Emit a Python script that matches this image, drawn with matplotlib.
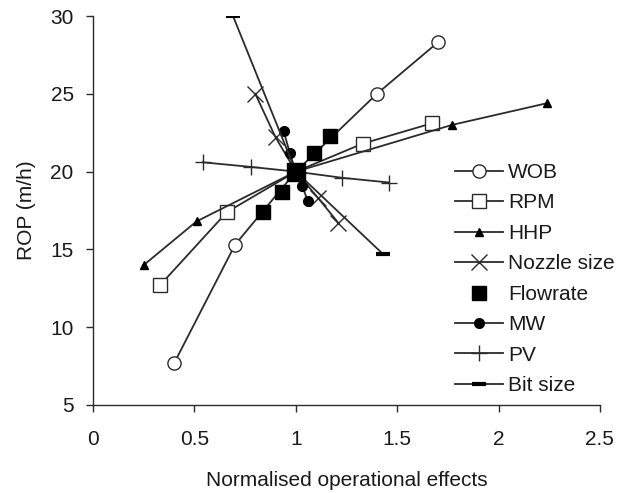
import matplotlib
matplotlib.use("Agg")
import matplotlib.pyplot as plt

plt.rcParams['font.family'] = ['Liberation Sans', 'DejaVu Sans']

# values
wob_x = [0.40, 0.70, 1.00, 1.40, 1.70]
wob_y = [7.7, 15.3, 20.0, 25.0, 28.3]
rpm_x = [0.33, 0.66, 1.00, 1.33, 1.67]
rpm_y = [12.7, 17.4, 20.0, 21.8, 23.1]
hhp_x = [0.25, 0.51, 1.00, 1.77, 2.24]
hhp_y = [14.0, 16.8, 20.0, 23.0, 24.4]
nozzle_x = [0.80, 0.90, 1.00, 1.11, 1.21]
nozzle_y = [25.0, 22.2, 20.0, 18.3, 16.7]
flow_x = [0.84, 0.93, 1.00, 1.09, 1.17]
flow_y = [17.4, 18.7, 20.0, 21.2, 22.3]
mw_x = [0.94, 0.97, 1.00, 1.03, 1.06]
mw_y = [22.6, 21.2, 20.0, 19.1, 18.1]
pv_x = [0.54, 0.78, 1.00, 1.23, 1.46]
pv_y = [20.6, 20.3, 20.0, 19.6, 19.3]
bit_x = [0.69, 1.00, 1.43]
bit_y = [30.0, 20.0, 14.7]

xticks = [0, 0.5, 1, 1.5, 2, 2.5]
xticklabels = ['0', '0.5', '1', '1.5', '2', '2.5']
yticks = [5, 10, 15, 20, 25, 30]

lc = '#2b2b2b'
txt = '#1a1a1a'

fig = plt.figure(figsize=(6.21, 4.93), dpi=100)
ax = fig.add_axes([0.150, 0.1785, 0.816, 0.789])

lw = 1.3
ax.plot(wob_x, wob_y, color=lc, lw=lw, marker='o', ms=9.5, mfc='white', mec=lc, mew=1.0, label='WOB')
ax.plot(rpm_x, rpm_y, color=lc, lw=lw, marker='s', ms=10, mfc='white', mec=lc, mew=1.0, label='RPM')
ax.plot(hhp_x, hhp_y, color=lc, lw=lw, marker='^', ms=6, mfc='black', mec='black', label='HHP')
ax.plot(nozzle_x, nozzle_y, color=lc, lw=lw, marker='x', ms=11, mec=lc, mew=1.0, label='Nozzle size')
ax.plot(flow_x, flow_y, ls='none', marker='s', ms=10, mfc='black', mec='black', label='Flowrate', zorder=4)
ax.plot(mw_x, mw_y, color=lc, lw=lw, marker='o', ms=7, mfc='black', mec='black', label='MW')
ax.plot(pv_x, pv_y, color=lc, lw=lw, marker='+', ms=12, mec=lc, mew=1.0, label='PV')
ax.plot(bit_x, bit_y, color=lc, lw=lw, marker='_', ms=10, mec='black', mew=3, label='Bit size', markevery=[0, 2])

# big centre marker where all series meet
ax.plot([1.0], [20.0], ls='none', marker='s', ms=13, mfc='black', mec='black', zorder=5)

ax.set_xlim(0, 2.5)
ax.set_ylim(5, 30)
ax.set_xticks(xticks)
ax.set_xticklabels(xticklabels)
ax.set_yticks(yticks)

for s in ['top', 'right']:
    ax.spines[s].set_visible(False)
for s in ['left', 'bottom']:
    ax.spines[s].set_color(lc)
    ax.spines[s].set_linewidth(1.0)

ax.tick_params(axis='both', direction='out', length=5, width=1.0, color=lc,
               labelsize=15, labelcolor=txt)
ax.tick_params(axis='x', pad=13)
ax.tick_params(axis='y', pad=9)

ax.set_xlabel('Normalised operational effects', fontsize=15, color=txt, labelpad=16)
ax.set_ylabel('ROP (m/h)', fontsize=15, color=txt, labelpad=10)

leg = ax.legend(loc='upper left', bbox_to_anchor=(455 / 621, 1 - 163 / 493),
                bbox_transform=fig.transFigure, frameon=False, fontsize=15,
                handlelength=2.3, handletextpad=0.25, labelspacing=0.55,
                borderpad=0, borderaxespad=0)
for t in leg.get_texts():
    t.set_color(txt)

fig.savefig('out.png', dpi=100)
